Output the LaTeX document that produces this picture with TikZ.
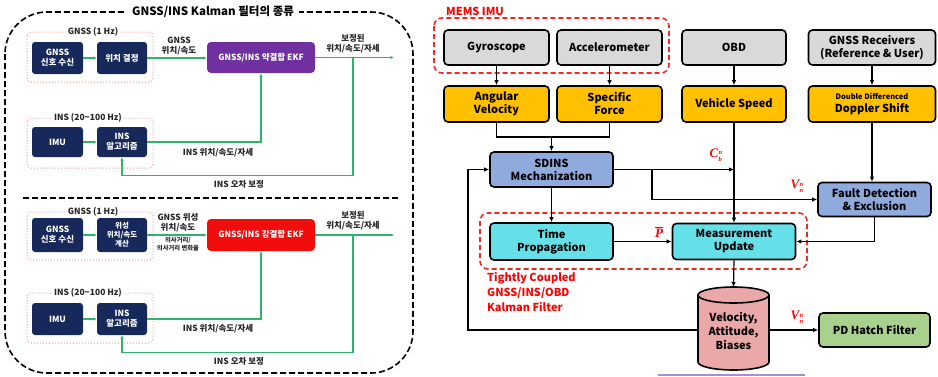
\documentclass[tikz,border=0pt]{standalone}
\usepackage{fontspec}
\setmainfont{Noto Sans CJK KR}
\newfontfamily\tnr{Liberation Serif}
\usetikzlibrary{arrows.meta,calc}
\newcommand\redsym[3]{{\tnr\bfseries\itshape #1}\kern0.3pt\raisebox{-4.5pt}{\shortstack[l]{\fontsize{6.5}{8.5}\selectfont\tnr\bfseries\itshape #2\\\fontsize{6.5}{8.5}\selectfont\tnr\bfseries\itshape #3}}}
\definecolor{navy}{HTML}{17295B}
\definecolor{grn}{HTML}{2DB36A}
\definecolor{pinkc}{HTML}{F29A9A}
\definecolor{purp}{HTML}{7030A0}
\definecolor{redb}{HTML}{F20D0D}
\definecolor{gry}{HTML}{D9D9D9}
\definecolor{yel}{HTML}{FFC000}
\definecolor{blu}{HTML}{8FAADC}
\definecolor{cya}{HTML}{66E0E8}
\definecolor{cylc}{HTML}{EAA8A8}
\definecolor{grb}{HTML}{A9D18E}
\definecolor{lav}{HTML}{A98BDB}
\definecolor{rdash}{HTML}{EE2A2A}
\begin{document}
\begin{tikzpicture}[x=1pt,y=-1pt,
  nb/.style={fill=navy, rounded corners=3pt, text=white, align=center, inner sep=1pt,
    font=\bfseries\fontsize{8.5}{10}\selectfont},
  ekfb/.style={rounded corners=4pt, text=white, align=center, inner sep=1pt,
    font=\bfseries\fontsize{8.5}{10}\selectfont, minimum width=108pt},
  garr/.style={draw=grn, line width=1.4pt, -{Latex[length=3.5pt,width=3.5pt]}},
  glab/.style={font=\bfseries\fontsize{8.5}{10}\selectfont, align=center, text=black!85},
  pinkd/.style={draw=pinkc, dotted, line width=1pt, rounded corners=4pt},
  plab/.style={fill=white, inner sep=1.5pt, font=\bfseries\fontsize{8.5}{10}\selectfont, text=black!85},
  rb/.style={draw=black, line width=1.6pt, rounded corners=4pt, align=center, inner sep=1pt,
    font=\bfseries\fontsize{11}{13}\selectfont},
  bar/.style={line width=1.2pt, -{Latex[length=5pt,width=4.5pt]}},
  bline/.style={line width=1.2pt},
  rlab/.style={text=red, inner sep=0pt, font=\fontsize{13}{13}\selectfont},
  rdbox/.style={draw=rdash, dashed, dash pattern=on 5pt off 3pt, line width=1.6pt, rounded corners=8pt}
]
\useasboundingbox (0,0) rectangle (938,376);

% ================= LEFT PANEL =================
\draw[line width=1.6pt, dash pattern=on 6pt off 3pt, rounded corners=42pt] (5,12) rectangle (413,373);
\node[fill=white, inner sep=5pt, font=\bfseries\fontsize{11.5}{12}\selectfont] (title) at (213,12) {GNSS/INS Kalman 필터의 종류};
\draw[line width=1.6pt, dash pattern=on 6pt off 3pt] (23,198) -- (399,198);

% --- loosely coupled ---
\draw[pinkd] (27,32) rectangle (153,82);
\node[plab] (lg1) at (93,32) {GNSS (1 Hz)};
\draw[pinkd] (27,118) rectangle (153,168);
\node[plab] (li1) at (88,118) {INS (20\textasciitilde100 Hz)};

\node[nb, minimum width=51pt, minimum height=32pt] (g1) at (57.5,58) {GNSS\\신호 수신};
\node[nb, minimum width=50pt, minimum height=32pt] (g2) at (122,58) {위치 결정};
\node[ekfb, fill=purp, minimum height=31pt] (ekf1) at (261,57.5) {GNSS/INS 약결합 EKF};
\node[nb, minimum width=51pt, minimum height=30pt] (imu1) at (57.5,142) {IMU};
\node[nb, minimum width=50pt, minimum height=30pt] (ins1) at (122,142) {INS\\알고리즘};

\coordinate (out1) at (394,57.5);
\coordinate (fb1) at (353,57.5);
\draw[garr] (g1) -- (g2);
\draw[garr] (g2.east) -- (g2.east -| ekf1.west);
\draw[garr] (ekf1.east) -- (out1);
\draw[garr] (imu1) -- (ins1);
\draw[garr] (ins1.east) -| (ekf1.south);
\draw[garr] (fb1) |- ($(ins1.south)+(0,18)$) -- (ins1.south);
\node[glab] (l1) at (179,46) {GNSS\\위치/속도};
\node[glab] (l2) at (353,44) {보정된\\위치/속도/자세};
\node[glab] (l3) at (218,153) {INS 위치/속도/자세};
\node[glab] (l4) at (239,184) {INS 오차 보정};

% --- tightly coupled ---
\draw[pinkd] (27,212) rectangle (153,260);
\node[plab] (lg2) at (93,212) {GNSS (1 Hz)};
\draw[pinkd] (27,293) rectangle (153,343);
\node[plab] (li2) at (88,293) {INS (20\textasciitilde100 Hz)};

\node[nb, minimum width=51pt, minimum height=34pt] (g3) at (57.5,235) {GNSS\\신호 수신};
\node[nb, minimum width=50pt, minimum height=34pt, font=\bfseries\fontsize{7.5}{9}\selectfont] (g4) at (122,235) {위성\\위치/속도\\계산};
\node[ekfb, fill=redb, minimum height=32pt] (ekf2) at (261,235) {GNSS/INS 강결합 EKF};
\node[nb, minimum width=51pt, minimum height=32pt] (imu2) at (57.5,319) {IMU};
\node[nb, minimum width=50pt, minimum height=32pt] (ins2) at (122,319) {INS\\알고리즘};

\coordinate (out2) at (394,235);
\coordinate (fb2) at (353,235);
\draw[garr] (g3) -- (g4);
\draw[garr] (g4.east) -- (g4.east -| ekf2.west);
\draw[garr] (ekf2.east) -- (out2);
\draw[garr] (imu2) -- (ins2);
\draw[garr] (ins2.east) -| (ekf2.south);
\draw[garr] (fb2) |- ($(ins2.south)+(0,17)$) -- (ins2.south);
\node[glab] (l5) at (178,223) {GNSS 위성\\위치/속도};
\node[glab, font=\bfseries\fontsize{6.3}{7.5}\selectfont] (l6) at (178,244) {의사거리/\\의사거리 변화율};
\node[glab] (l7) at (353,221) {보정된\\위치/속도/자세};
\node[glab] (l8) at (218,329) {INS 위치/속도/자세};
\node[glab] (l9) at (239,361) {INS 오차 보정};

% ================= RIGHT PANEL =================
\draw[rdbox] (434,18) rectangle (669,73);
\node[anchor=west, text=red, inner sep=0pt, font=\bfseries\fontsize{11}{12}\selectfont] (mems) at (446,11) {MEMS IMU};
\draw[rdbox] (480,213) rectangle (807,269);
\node[anchor=north west, align=left, text=red, inner sep=0pt, font=\bfseries\fontsize{11}{15}\selectfont] (tc) at (487,272) {Tightly Coupled\\GNSS/INS/OBD\\Kalman Filter};

\node[rb, fill=gry, minimum width=105pt, minimum height=35pt] (gyro) at (496.5,47.5) {Gyroscope};
\node[rb, fill=gry, minimum width=105pt, minimum height=35pt] (acc) at (609.5,47.5) {Accelerometer};
\node[rb, fill=gry, minimum width=104pt, minimum height=35pt] (obd) at (734,47.5) {OBD};
\node[rb, fill=gry, minimum width=127pt, minimum height=35pt] (gnr) at (872,47.5) {GNSS Receivers\\(Reference \& User)};

\node[rb, fill=yel, minimum width=105pt, minimum height=36pt] (angv) at (496.5,104) {Angular\\Velocity};
\node[rb, fill=yel, minimum width=105pt, minimum height=36pt] (spf) at (609.5,104) {Specific\\Force};
\node[rb, fill=yel, minimum width=104pt, minimum height=36pt] (vsp) at (734,104) {Vehicle Speed};
\node[rb, fill=yel, minimum width=127pt, minimum height=36pt] (dd) at (872,104) {{\fontsize{7.5}{9}\selectfont Double Differenced}\\Doppler Shift};

\node[rb, fill=blu, minimum width=123pt, minimum height=35pt] (sdins) at (551.5,169.5) {SDINS\\Mechanization};
\node[rb, fill=blu, minimum width=113pt, minimum height=34pt] (fde) at (874.5,199.5) {Fault Detection\\\& Exclusion};
\node[rb, fill=cya, minimum width=123pt, minimum height=37pt] (tp) at (551.5,241.5) {Time\\Propagation};
\node[rb, fill=cya, minimum width=123pt, minimum height=36pt] (mu) at (734,241.5) {Measurement\\Update};
\node[rb, fill=grb, minimum width=111pt, minimum height=34pt] (pdh) at (874.5,330) {PD Hatch Filter};

% cylinder
\filldraw[fill=cylc, line width=1.6pt] (698,295) -- (698,362) arc[start angle=180, end angle=0, x radius=35.5, y radius=8] -- (769,295);
\filldraw[fill=cylc, line width=1.6pt] (733.5,295) ellipse[x radius=35.5, y radius=8];
\node[align=center, inner sep=0pt, font=\bfseries\fontsize{11}{14}\selectfont] (cyl) at (733.5,331) {Velocity,\\Attitude,\\Biases};
\coordinate (cylT) at (733.5,287);
\coordinate (cylL) at (698,330);
\coordinate (cylR) at (769,330);

% connectors
\draw[bar] (gyro.south) -- (angv.north);
\draw[bar] (acc.south) -- (spf.north);
\draw[bar] (obd.south) -- (vsp.north);
\draw[bar] (gnr.south) -- (dd.north);
\coordinate (j) at (551.5,137);
\draw[bline] (angv.south) |- (j) -| (spf.south);
\draw[bar] (j) -- (sdins.north);
\draw[bar] (vsp.south) -- (mu.north);
\coordinate (cb) at (vsp.south |- sdins.east);
\draw[bar] (sdins.east) -- (cb);
\coordinate (br) at (652,169.5);
\draw[bar] (br) |- (fde.west);
\draw[bar] (dd.south) -- (dd.south |- fde.north);
\draw[bar] (fde.south) |- (mu.east);
\draw[bar] (sdins.south) -- (tp.north);
\draw[bar] (tp.east) -- (mu.west);
\draw[bar] (mu.south) -- (cylT);
\draw[bar] (cylR) -- (pdh.west);
\coordinate (lp) at (468,330);
\draw[bar] (cylL) -- (lp) |- (sdins.west);

\node[rlab] (lcb) at (716,155) {\redsym{C}{n}{b}};
\node[rlab] (lv1) at (797,186) {\redsym{V}{n}{n}};
\node[rlab] (lp1) at (659,232) {$\overline{\mbox{\tnr\bfseries\itshape P}}$};
\node[rlab] (lv2) at (797,317) {\redsym{V}{n}{n}};

\draw[draw=lav, line width=1.5pt] (658,375) -- (805,375);
\end{tikzpicture}
\end{document}
